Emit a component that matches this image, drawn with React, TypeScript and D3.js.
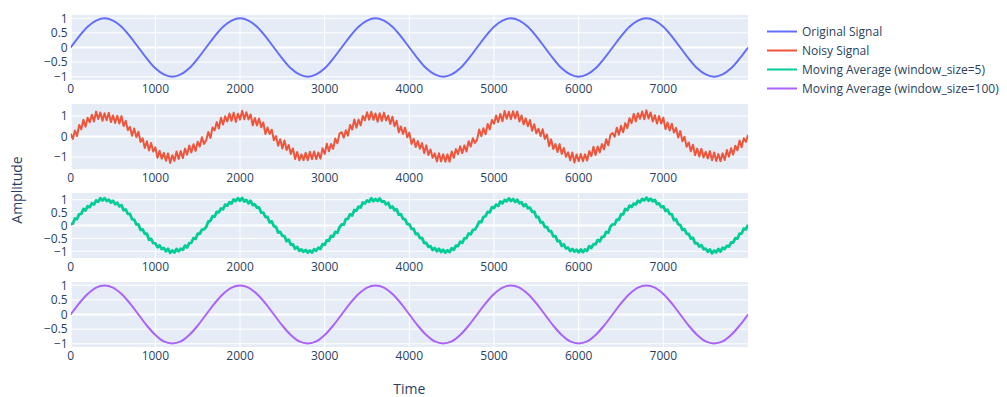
import React from "react";
import * as d3 from "d3";

const W = 1007;
const H = 397;

// ---------- data ----------
const xTickValues = [0, 1000, 2000, 3000, 4000, 5000, 6000, 7000];
const yTicksFine = [-1, -0.5, 0, 0.5, 1];
const yTicksCoarse = [-1, 0, 1];

const seriesNames = [
  "Original Signal",
  "Noisy Signal",
  "Moving Average (window_size=5)",
  "Moving Average (window_size=100)",
];
const seriesColors = ["#636efa", "#EF553B", "#00cc96", "#ab63fa"];

// sampled every 100 time units (0..8000)
const originalSignal = [
  0, 0.38, 0.71, 0.92, 1, 0.92, 0.71, 0.38, 0, -0.38, -0.71, -0.92, -1, -0.92, -0.71, -0.38,
  0, 0.38, 0.71, 0.92, 1, 0.92, 0.71, 0.38, 0, -0.38, -0.71, -0.92, -1, -0.92, -0.71, -0.38,
  0, 0.38, 0.71, 0.92, 1, 0.92, 0.71, 0.38, 0, -0.38, -0.71, -0.92, -1, -0.92, -0.71, -0.38,
  0, 0.38, 0.71, 0.92, 1, 0.92, 0.71, 0.38, 0, -0.38, -0.71, -0.92, -1, -0.92, -0.71, -0.38,
  0, 0.38, 0.71, 0.92, 1, 0.92, 0.71, 0.38, 0, -0.38, -0.71, -0.92, -1, -0.92, -0.71, -0.38,
  0,
];

// sampled every 25 time units (0..8000)
const noisySignal = [
  0.14, -0.12, 0.29, 0.02, 0.56, 0.35, 0.81, 0.47, 0.91, 0.69, 1.06, 0.73, 1.21, 0.85, 1.17, 0.76,
  1.13, 0.79, 1.15, 0.7, 1.02, 0.66, 1.01, 0.63, 0.99, 0.51, 0.76, 0.31, 0.47, 0.04, 0.39, -0.03,
  0.23, -0.27, -0.09, -0.56, -0.23, -0.68, -0.32, -0.73, -0.53, -1.03, -0.69, -1.08, -0.8, -1.18, -0.82, -1.29,
  -0.91, -1.19, -0.73, -1.09, -0.71, -1.05, -0.59, -0.88, -0.44, -0.78, -0.38, -0.7, -0.26, -0.49, -0.04, -0.36,
  -0.19, 0.22, -0.07, 0.44, 0.29, 0.7, 0.39, 0.91, 0.58, 0.98, 0.73, 1.12, 0.76, 1.16, 0.71, 1.11,
  0.82, 1.25, 0.84, 1.18, 0.83, 1.07, 0.54, 0.9, 0.54, 0.87, 0.45, 0.68, 0.12, 0.44, 0.12, 0.33,
  -0.18, 0.02, -0.45, -0.13, -0.58, -0.19, -0.66, -0.41, -0.85, -0.58, -1.1, -0.75, -1.16, -0.87, -1.15, -0.79,
  -1.15, -0.74, -1.1, -0.73, -1.1, -0.78, -1.08, -0.57, -0.85, -0.35, -0.72, -0.36, -0.6, -0.1, -0.33, 0.14,
  0.21, -0.06, 0.3, 0.04, 0.56, 0.34, 0.83, 0.43, 0.82, 0.54, 1.0, 0.79, 1.18, 0.82, 1.2, 0.81,
  1.12, 0.72, 1.13, 0.75, 1.16, 0.78, 1.01, 0.61, 0.96, 0.5, 0.76, 0.2, 0.49, 0.12, 0.43, -0.04,
  0.19, -0.36, -0.11, -0.51, -0.22, -0.59, -0.32, -0.81, -0.43, -0.9, -0.63, -1.03, -0.82, -1.21, -0.81, -1.21,
  -0.86, -1.23, -0.87, -1.23, -0.73, -1.04, -0.61, -0.86, -0.47, -0.81, -0.43, -0.73, -0.23, -0.49, -0.08, -0.31,
  -0.15, 0.34, 0.01, 0.4, 0.11, 0.61, 0.35, 0.8, 0.62, 1.02, 0.7, 1.1, 0.74, 1.24, 0.86, 1.2,
  0.84, 1.23, 0.88, 1.22, 0.73, 1.02, 0.59, 0.88, 0.5, 0.8, 0.28, 0.6, 0.16, 0.38, 0.02, 0.35,
  -0.12, 0.1, -0.47, -0.14, -0.61, -0.37, -0.75, -0.37, -0.85, -0.56, -0.99, -0.77, -1.16, -0.78, -1.27, -0.87,
  -1.2, -0.85, -1.2, -0.87, -1.17, -0.71, -0.95, -0.5, -0.9, -0.49, -0.77, -0.37, -0.62, -0.13, -0.43, 0.08,
  0.17, -0.01, 0.43, 0.09, 0.52, 0.21, 0.65, 0.41, 0.89, 0.65, 1.1, 0.73, 1.13, 0.86, 1.22, 0.84,
  1.28, 0.87, 1.17, 0.73, 1.03, 0.63, 1.0, 0.63, 0.91, 0.36, 0.68, 0.29, 0.62, 0.19, 0.42, -0.05,
  0.26, -0.23, -0.01, -0.5, -0.29, -0.72, -0.4, -0.91, -0.59, -0.97, -0.6, -1.02, -0.74, -1.07, -0.71, -1.15,
  -0.78, -1.19, -0.85, -1.2, -0.82, -1.14, -0.66, -0.98, -0.57, -0.88, -0.45, -0.67, -0.2, -0.52, -0.08, -0.26,
  0.08,
];

// sampled every 25 time units (0..8000)
const movingAvg5 = [
  0.05, 0.07, 0.27, 0.25, 0.44, 0.45, 0.64, 0.58, 0.75, 0.71, 0.86, 0.81, 0.97, 0.92, 1.06, 0.97,
  1.06, 0.95, 1.0, 0.89, 0.96, 0.82, 0.88, 0.74, 0.79, 0.59, 0.62, 0.45, 0.45, 0.24, 0.23, 0.04,
  0.04, -0.17, -0.15, -0.32, -0.32, -0.55, -0.52, -0.68, -0.69, -0.84, -0.77, -0.91, -0.87, -1.0, -0.9, -1.06,
  -0.97, -1.05, -0.91, -1.0, -0.9, -0.94, -0.78, -0.85, -0.68, -0.67, -0.49, -0.52, -0.32, -0.32, -0.16, -0.15,
  -0.06, 0.15, 0.18, 0.36, 0.34, 0.53, 0.51, 0.66, 0.63, 0.81, 0.77, 0.9, 0.85, 1.01, 0.95, 1.06,
  0.96, 1.07, 0.93, 0.99, 0.86, 0.96, 0.79, 0.82, 0.69, 0.7, 0.5, 0.5, 0.33, 0.33, 0.12, 0.16,
  -0.03, -0.05, -0.27, -0.25, -0.4, -0.41, -0.61, -0.55, -0.74, -0.73, -0.9, -0.83, -0.98, -0.93, -1.02, -0.95,
  -1.05, -0.97, -1.05, -0.92, -0.98, -0.86, -0.91, -0.72, -0.75, -0.57, -0.59, -0.4, -0.43, -0.25, -0.28, -0.07,
  0.04, 0.03, 0.25, 0.26, 0.44, 0.39, 0.6, 0.58, 0.73, 0.7, 0.89, 0.85, 0.97, 0.92, 1.06, 0.94,
  1.03, 0.95, 1.05, 0.92, 0.94, 0.82, 0.88, 0.69, 0.74, 0.59, 0.63, 0.42, 0.44, 0.26, 0.24, 0.05,
  0.05, -0.13, -0.13, -0.33, -0.32, -0.49, -0.48, -0.68, -0.67, -0.83, -0.8, -0.95, -0.87, -1.0, -0.9, -1.03,
  -0.94, -1.05, -0.96, -1.03, -0.88, -0.94, -0.78, -0.8, -0.63, -0.67, -0.5, -0.49, -0.31, -0.34, -0.17, -0.16,
  -0.03, 0.15, 0.13, 0.33, 0.36, 0.53, 0.51, 0.71, 0.68, 0.81, 0.76, 0.93, 0.86, 0.99, 0.94, 1.05,
  0.95, 1.03, 0.91, 1.0, 0.86, 0.9, 0.75, 0.82, 0.67, 0.69, 0.53, 0.54, 0.33, 0.33, 0.12, 0.13,
  -0.06, -0.05, -0.22, -0.22, -0.42, -0.41, -0.61, -0.6, -0.79, -0.73, -0.89, -0.86, -0.99, -0.91, -1.01, -0.94,
  -1.04, -0.93, -1.03, -0.93, -0.98, -0.8, -0.87, -0.72, -0.73, -0.56, -0.62, -0.44, -0.43, -0.25, -0.28, -0.04,
  0.04, 0.04, 0.23, 0.22, 0.43, 0.43, 0.64, 0.6, 0.77, 0.72, 0.85, 0.81, 0.96, 0.9, 1.03, 0.97,
  1.08, 0.96, 1.04, 0.94, 0.99, 0.83, 0.86, 0.71, 0.75, 0.56, 0.61, 0.44, 0.44, 0.21, 0.24, 0.05,
  0.02, -0.17, -0.14, -0.32, -0.33, -0.51, -0.48, -0.69, -0.68, -0.82, -0.76, -0.92, -0.9, -1.02, -0.93, -1.08,
  -0.97, -1.04, -0.91, -1.01, -0.86, -0.91, -0.79, -0.82, -0.66, -0.66, -0.49, -0.51, -0.32, -0.31, -0.12, -0.15,
  0.03,
];

// sampled every 100 time units (0..8000)
const movingAvg100 = [
  0, 0.38, 0.7, 0.92, 0.99, 0.92, 0.7, 0.38, 0, -0.38, -0.7, -0.92, -0.99, -0.92, -0.7, -0.38,
  0, 0.38, 0.7, 0.92, 0.99, 0.92, 0.7, 0.38, 0, -0.38, -0.7, -0.92, -0.99, -0.92, -0.7, -0.38,
  0, 0.38, 0.7, 0.92, 0.99, 0.92, 0.7, 0.38, 0, -0.38, -0.7, -0.92, -0.99, -0.92, -0.7, -0.38,
  0, 0.38, 0.7, 0.92, 0.99, 0.92, 0.7, 0.38, 0, -0.38, -0.7, -0.92, -0.99, -0.92, -0.7, -0.38,
  0, 0.38, 0.7, 0.92, 0.99, 0.92, 0.7, 0.38, 0, -0.38, -0.7, -0.92, -0.99, -0.92, -0.7, -0.38,
  0,
];

const coarseTimes = d3.range(0, 8001, 100);
const denseTimes = d3.range(0, 8001, 25);

// ---------- layout ----------
const plotLeft = 70.7;
const plotRight = 748;
const rowTop0 = 15;
const rowHeight = 65;
const rowPitch = 89;

const FONT = "'Open Sans', verdana, arial, sans-serif";
const TEXT = "#2a3f5f";

const xScale = d3.scaleLinear().domain([0, 8000]).range([plotLeft, plotRight]);

const fmt = (v: number) => (v < 0 ? "\u2212" + String(Math.abs(v)) : String(v));

type Row = {
  values: number[];
  times: number[];
  domain: [number, number];
  ticks: number[];
  color: string;
  curve: d3.CurveFactory;
  width: number;
};

const rows: Row[] = [
  { values: originalSignal, times: coarseTimes, domain: [-1.11, 1.11], ticks: yTicksFine, color: seriesColors[0], curve: d3.curveCatmullRom, width: 2 },
  { values: noisySignal, times: denseTimes, domain: [-1.58, 1.58], ticks: yTicksCoarse, color: seriesColors[1], curve: d3.curveLinear, width: 2 },
  { values: movingAvg5, times: denseTimes, domain: [-1.26, 1.26], ticks: yTicksFine, color: seriesColors[2], curve: d3.curveLinear, width: 2.8 },
  { values: movingAvg100, times: coarseTimes, domain: [-1.11, 1.11], ticks: yTicksFine, color: seriesColors[3], curve: d3.curveCatmullRom, width: 2 },
];

function Subplot({ row, index }: { row: Row; index: number }) {
  const top = rowTop0 + index * rowPitch;
  const bottom = top + rowHeight;
  const y = d3.scaleLinear().domain(row.domain).range([bottom, top]);
  const line = d3
    .line<number>()
    .x((_, i) => xScale(row.times[i]))
    .y((d) => y(d))
    .curve(row.curve);
  const clipId = `clip-${index}`;
  return (
    <g>
      <defs>
        <clipPath id={clipId}>
          <rect x={plotLeft} y={top} width={plotRight - plotLeft} height={rowHeight} />
        </clipPath>
      </defs>
      <rect x={plotLeft} y={top} width={plotRight - plotLeft} height={rowHeight} fill="#E5ECF6" />
      {xTickValues.map((t) => (
        <line key={"gx" + t} x1={xScale(t)} x2={xScale(t)} y1={top} y2={bottom} stroke="#fff" strokeWidth={t === 0 ? 2 : 1} />
      ))}
      {row.ticks.map((t) => (
        <line key={"gy" + t} x1={plotLeft} x2={plotRight} y1={y(t)} y2={y(t)} stroke="#fff" strokeWidth={t === 0 ? 2 : 1} />
      ))}
      <path d={line(row.values) || ""} fill="none" stroke={row.color} strokeWidth={row.width} strokeLinejoin="round" clipPath={`url(#${clipId})`} />
      {row.ticks.map((t) => (
        <text key={"ty" + t} x={plotLeft - 3} y={y(t)} dy="0.36em" textAnchor="end" fontSize={12} fill={TEXT} fontFamily={FONT}>
          {fmt(t)}
        </text>
      ))}
      {xTickValues.map((t) => (
        <text key={"tx" + t} x={xScale(t)} y={bottom + 13} textAnchor="middle" fontSize={12} fill={TEXT} fontFamily={FONT}>
          {fmt(t)}
        </text>
      ))}
    </g>
  );
}

export default function App() {
  const legendX = 767;
  const legendY0 = 31.5;
  const legendStep = 19;
  return (
    <svg width={W} height={H} style={{ position: "absolute", left: 0, top: 0, background: "#fff" }}>
      <rect x={0} y={0} width={W} height={H} fill="#fff" />
      {rows.map((r, i) => (
        <Subplot key={i} row={r} index={i} />
      ))}
      <text x={(plotLeft + plotRight) / 2} y={394} textAnchor="middle" fontSize={14} fill={TEXT} fontFamily={FONT}>
        Time
      </text>
      <text transform={`translate(22,190) rotate(-90)`} textAnchor="middle" fontSize={14} fill={TEXT} fontFamily={FONT}>
        Amplitude
      </text>
      {seriesNames.map((name, i) => (
        <g key={name} transform={`translate(${legendX},${legendY0 + i * legendStep})`}>
          <line x1={0} x2={30} y1={0} y2={0} stroke={seriesColors[i]} strokeWidth={2} />
          <text x={35} y={0} dy="0.36em" fontSize={12} fill={TEXT} fontFamily={FONT}>
            {name}
          </text>
        </g>
      ))}
    </svg>
  );
}
